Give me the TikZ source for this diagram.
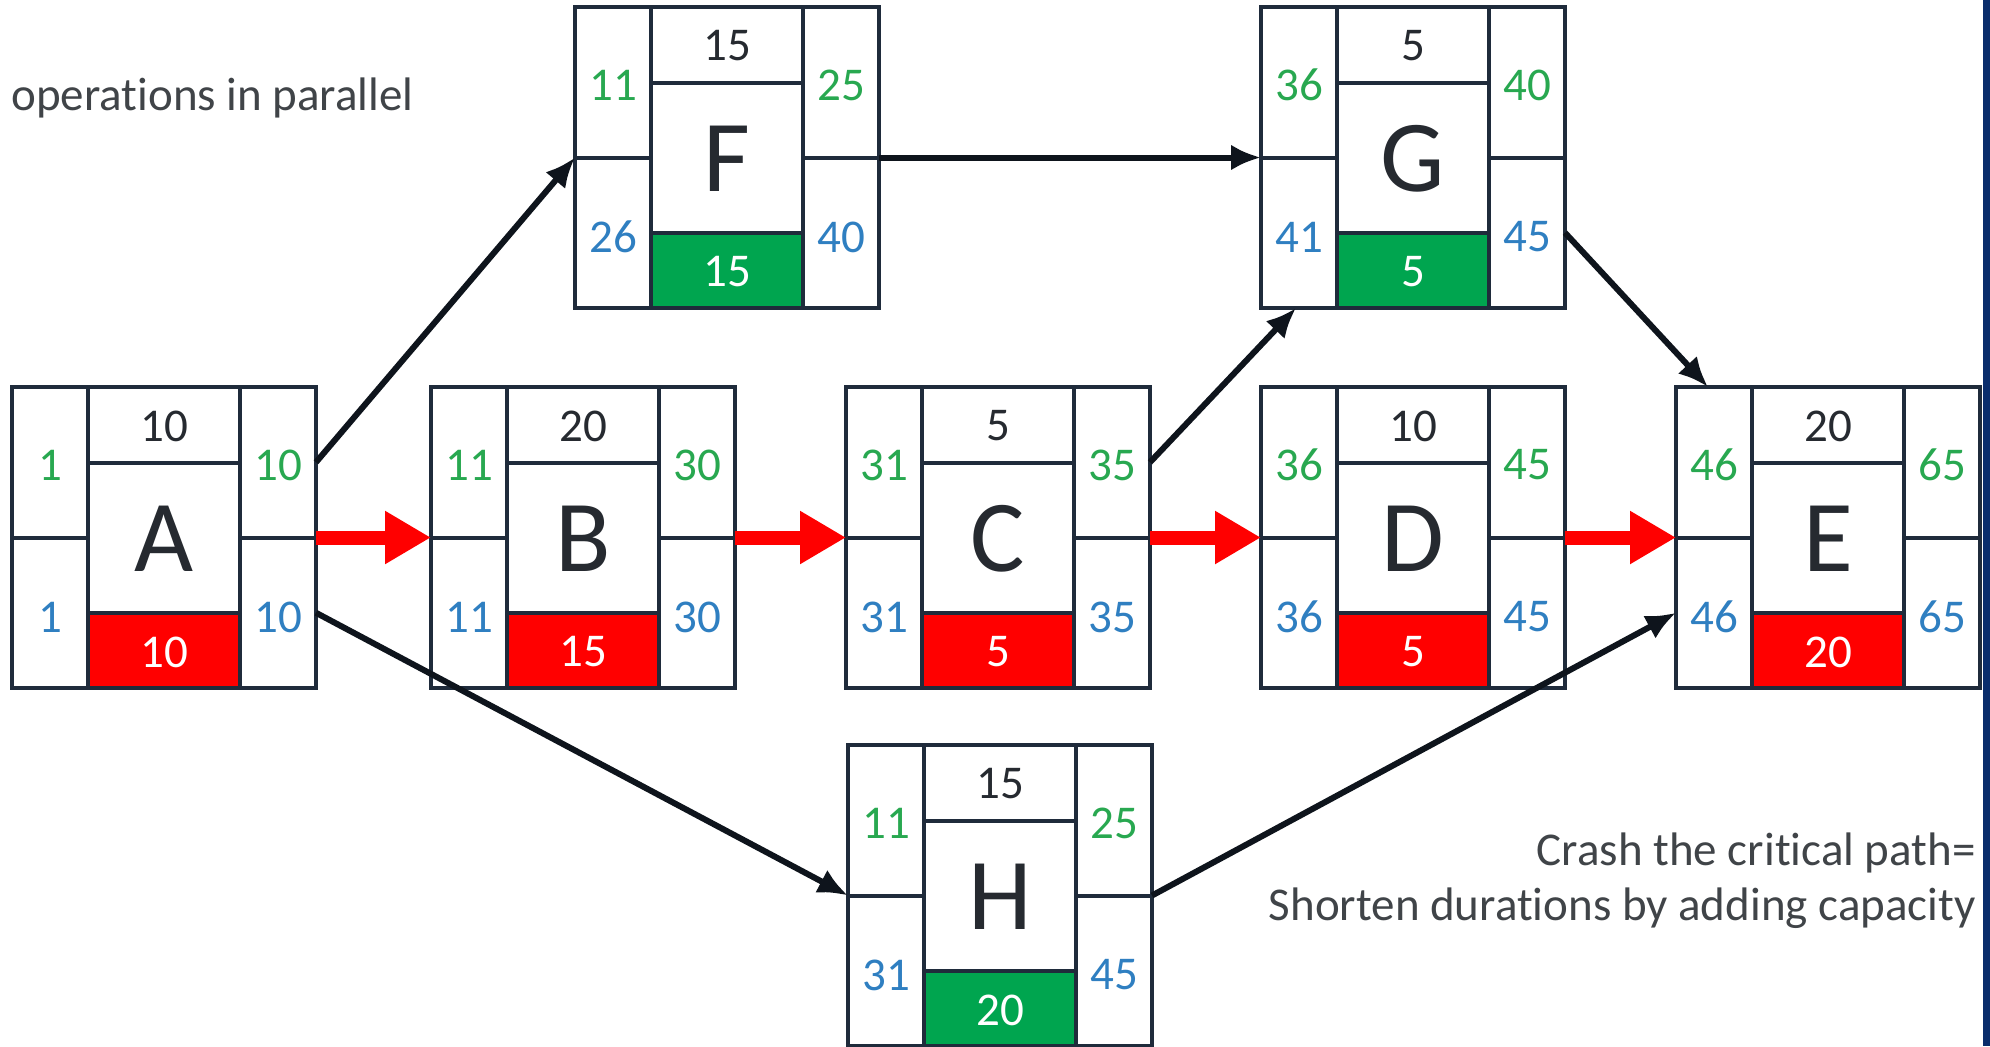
\documentclass[tikz,border=0pt]{standalone}
\usepackage{fontspec}
\setmainfont{Carlito}[Ligatures=NoCommon]
\usetikzlibrary{arrows.meta,calc}
\definecolor{boxline}{HTML}{1F2B3B}
\definecolor{greennum}{HTML}{28A850}
\definecolor{bluenum}{HTML}{2F7FC1}
\definecolor{darknum}{HTML}{262A30}
\definecolor{critred}{HTML}{FF0000}
\definecolor{okgreen}{HTML}{00A54F}
\definecolor{notegray}{HTML}{404448}
\definecolor{arrowblack}{HTML}{0E141C}
\definecolor{navybar}{HTML}{0A2D6C}
\tikzset{
 boxframe/.style={draw=boxline, line width=2pt, minimum width=152pt, minimum height=150.5pt, inner sep=0pt, outer sep=0pt, anchor=north west},
 gridline/.style={draw=boxline, line width=2pt},
 numfont/.style={font=\fontsize{23.5}{28}\selectfont, inner sep=0pt},
 earlynum/.style={numfont, text=greennum},
 latenum/.style={numfont, text=bluenum},
 durnum/.style={numfont, text=darknum},
 crashnum/.style={numfont, text=white},
 actletter/.style={font=\fontsize{51}{60}\selectfont, text=darknum, inner sep=0pt},
 conn/.style={draw=arrowblack, line width=3pt, -{Latex[length=15pt,width=13pt]}},
 crit/.style={draw=critred, line width=7pt, -{Triangle[length=23pt,width=25pt]}},
 note/.style={font=\fontsize{23.5}{28}\selectfont, text=notegray, inner sep=0pt},
}
\newcommand\actbox[7]{%
 \begin{scope}[shift={(#2,#3)}]
  \fill[#7] (76,226) rectangle (228,301);
  \draw[gridline] (76,0) -- (76,301) (228,0) -- (228,301) (76,76) -- (228,76)
     (76,226) -- (228,226) (0,150.5) -- (76,150.5) (228,150.5) -- (304,150.5);
  \node[boxframe] (#1) at (0,0) {};
  \node[durnum] (#1-dur) at (152,39) {#5};
  \node[actletter] (#1-name) at (152,152) {#4};
  \node[crashnum] (#1-crash) at (152,265) {#6};
 \end{scope}}
\newcommand\actnums[5]{%
 \begin{scope}[shift={(#1.north west)}]
  \node[earlynum] (#1-es) at (38,78) {#2};
  \node[earlynum] (#1-ef) at (266,78) {#3};
  \node[latenum] (#1-ls) at (38,230) {#4};
  \node[latenum] (#1-lf) at (266,230) {#5};
 \end{scope}}
\begin{document}
\begin{tikzpicture}[x=0.5pt,y=-0.5pt]
\useasboundingbox (0,0) rectangle (1990,1046);
\fill[white] (0,0) rectangle (1990,1046);
\fill[navybar] (1983,0) rectangle (1990,1046);

\actbox{A}{12}{387}{A}{10}{10}{critred}
\actnums{A}{1}{10}{1}{10}
\actbox{B}{431}{387}{B}{20}{15}{critred}
\actnums{B}{11}{30}{11}{30}
\actbox{C}{846}{387}{C}{5}{5}{critred}
\actnums{C}{31}{35}{31}{35}
\actbox{D}{1261}{387}{D}{10}{5}{critred}
\actnums{D}{36}{45}{36}{45}
\actbox{E}{1676}{387}{E}{20}{20}{critred}
\actnums{E}{46}{65}{46}{65}
\actbox{F}{575}{7}{F}{15}{15}{okgreen}
\actnums{F}{11}{25}{26}{40}
\actbox{G}{1261}{7}{G}{5}{5}{okgreen}
\actnums{G}{36}{40}{41}{45}
\actbox{H}{848}{745}{H}{15}{20}{okgreen}
\actnums{H}{11}{25}{31}{45}

\draw[crit] (A.east) -- (B.west);
\draw[crit] (B.east) -- (C.west);
\draw[crit] (C.east) -- (D.west);
\draw[crit] (D.east) -- (E.west);

\draw[conn] ($(A.east)!.5!(A.north east)$) -- (F.west);
\draw[conn] ($(A.east)!.5!(A.south east)$) -- (H.west);
\draw[conn] (F.east) -- (G.west);
\draw[conn] ($(C.east)!.5!(C.north east)$) -- ($(G.south west)+(35,0)$);
\draw[conn] ($(G.east)!.5!(G.south east)$) -- ($(E.north west)+(32,0)$);
\draw[conn] (H.east) -- ($(E.west)!.5!(E.south west)$);

\node[note, anchor=base west] (par) at (11,110) {operations in parallel};
\node[note, anchor=base east] (crash1) at (1976,865) {Crash the critical path=};
\node[note, anchor=base east] (crash2) at (1976,920) {Shorten durations by adding capacity};
\end{tikzpicture}
\end{document}
